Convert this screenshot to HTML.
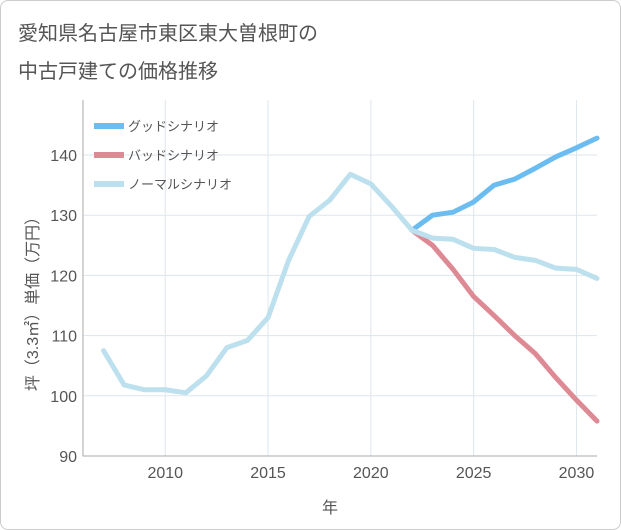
<!DOCTYPE html>
<html><head><meta charset="utf-8"><style>
body{margin:0;background:#fff;font-family:"Liberation Sans","Noto Sans CJK JP",sans-serif;}
#wrap{position:relative;width:619px;height:528px;border:1px solid #ccc;border-radius:8px;background:#fff;}
</style></head><body>
<div id="wrap">
<svg id="chart" width="621" height="530" style="position:absolute;left:-1px;top:-1px">
<text x="18" y="40" font-size="20" fill="#555">愛知県名古屋市東区東大曽根町の</text>
<text x="18" y="78" font-size="20" fill="#555">中古戸建ての価格推移</text>
<text x="330" y="513" font-size="16" fill="#555" text-anchor="middle">年</text>
<text transform="translate(38,300) rotate(-90)" font-size="16" fill="#555" text-anchor="middle">坪（3.3㎡）単価（万円）</text>
<g id="grid"></g><g id="series"></g><g id="legend"></g>
</svg></div>
<script>
const years=[2007,2008,2009,2010,2011,2012,2013,2014,2015,2016,2017,2018,2019,2020,2021,2022,2023,2024,2025,2026,2027,2028,2029,2030,2031];
const normal=[107.5,101.8,101,101,100.5,103.3,108,109.2,113,122.5,129.8,132.5,136.8,135.2,131.5,127.5,126.2,126,124.5,124.3,123,122.5,121.2,121,119.5];
const futureYears=[2022,2023,2024,2025,2026,2027,2028,2029,2030,2031];
const good=[127.5,130,130.5,132.2,135,136,137.8,139.7,141.2,142.8];
const bad=[127.5,125,121,116.5,113.3,110,107,103,99.3,95.8];
const yTicks=[90,100,110,120,130,140];
const xTicks=[2010,2015,2020,2025,2030];
const L=83,R=597,T=100,B=456;
const x=v=>L+(v-2006)/(2031-2006)*(R-L);
const y=v=>B-(v-90)/10*60.2;
const NS='http://www.w3.org/2000/svg';
function mk(t,a,p){const e=document.createElementNS(NS,t);for(const k in a)e.setAttribute(k,a[k]);p.appendChild(e);return e;}
const g=document.getElementById('grid');
for(let yr=2007;yr<=2031;yr++){if(yr%1===0){}}
for(const t of yTicks){const l=mk('line',{x1:L,x2:R,y1:y(t),y2:y(t),stroke:'#dde6ee','stroke-width':1},g);

const tx=mk('text',{x:L-6,y:y(t)+6,'font-size':16,fill:'#555','text-anchor':'end'},g);tx.textContent=t;
}
for(const t of xTicks){const l=mk('line',{x1:x(t),x2:x(t),y1:T,y2:B,stroke:'#dde6ee','stroke-width':1},g);

const tx=mk('text',{x:x(t),y:B+22,'font-size':16,fill:'#555','text-anchor':'middle'},g);tx.textContent=t;
}
const ax=mk('path',{d:`M${L},${T} V${B} H${R}`,stroke:'#aaa',fill:'none'},g);

const s=document.getElementById('series');
function line(xs,vs,c,n){const p=mk('path',{d:xs.map((v,i)=>(i?'L':'M')+x(v)+','+y(vs[i])).join(' '),stroke:c,'stroke-width':5,fill:'none','stroke-linejoin':'round','stroke-linecap':'round'},s);
}
line(futureYears,good,'#6bbcf0','good-scenario-line');
line(futureYears,bad,'#de8a94','bad-scenario-line');
line(years,normal,'#bde0ee','normal-scenario-line');
const lg=document.getElementById('legend');
[['グッドシナリオ','#6bbcf0'],['バッドシナリオ','#de8a94'],['ノーマルシナリオ','#bde0ee']].forEach((d,i)=>{
const yy=126+i*29;
const r=mk('rect',{x:94,y:yy-3,width:30,height:6,fill:d[1]},lg);

const t=mk('text',{x:128,y:yy+5,'font-size':13,fill:'#555'},lg);t.textContent=d[0];
});
</script></body></html>
